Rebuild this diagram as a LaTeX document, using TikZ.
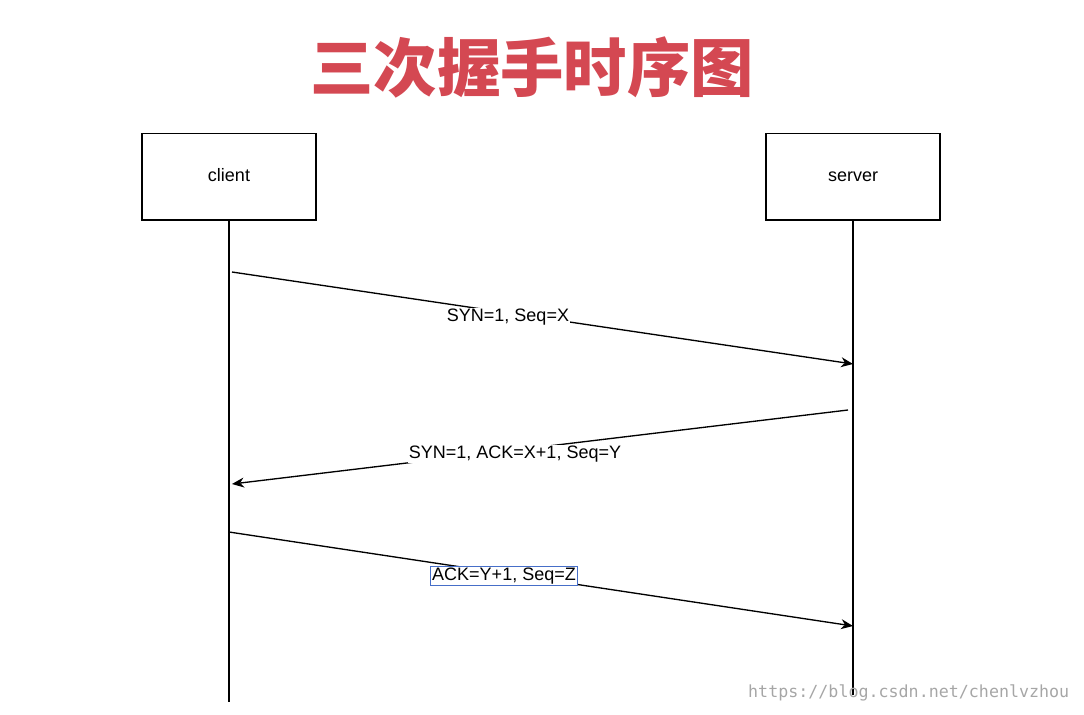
\documentclass[tikz,border=0pt]{standalone}
\usepackage{fontspec}
\usetikzlibrary{arrows.meta}
\setmainfont{Liberation Sans}
\newfontfamily\cjk{Noto Sans CJK SC}
\newfontfamily\wmfont{DejaVu Sans Mono}
\definecolor{titlered}{RGB}{212,72,82}
\definecolor{selblue}{RGB}{70,110,200}
\begin{document}
\begin{tikzpicture}[x=0.75pt,y=-0.75pt,
  actor/.style={draw,line width=1pt,minimum width=130.5pt,minimum height=65pt,inner sep=0pt,text height=9pt,text depth=2pt,font=\fontsize{13.5}{15}\selectfont},
  msg/.style={-{Stealth[length=9pt,width=7.5pt]},line width=1pt},
  lab/.style={fill=white,inner sep=1pt,font=\fontsize{13.5}{15}\selectfont}]
\useasboundingbox (0,0) rectangle (1084,714);
\node[font=\cjk\bfseries\fontsize{47.5}{52}\selectfont,text=titlered] (title) at (532,67) {三次握手时序图};
\node[actor] (client) at (229,176.5) {client};
\node[actor] (server) at (853,176.5) {server};
\coordinate (cend) at (229,702);
\coordinate (send) at (853,695);
\draw[line width=1pt] (client.south) -- (cend);
\draw[line width=1pt] (server.south) -- (send);
\coordinate (a1s) at (232,272); \coordinate (a1e) at (853,364);
\coordinate (a2s) at (848,410); \coordinate (a2e) at (232,484);
\coordinate (a3s) at (229,532); \coordinate (a3e) at (853,626);
\draw[msg] (a1s) -- (a1e);
\draw[msg] (a2s) -- (a2e);
\draw[msg] (a3s) -- (a3e);
\node[lab] (l1) at (508,317) {SYN=1, Seq=X};
\node[lab] (l2) at (515,454) {SYN=1, ACK=X+1, Seq=Y};
\node[lab,draw=selblue,line width=0.8pt] (l3) at (504,576) {ACK=Y+1, Seq=Z};
\node[font=\wmfont\fontsize{12.5}{14}\selectfont,text=black!35,anchor=east] (wm) at (1074,693) {https://blog.csdn.net/chenlvzhou};
\end{tikzpicture}
\end{document}
